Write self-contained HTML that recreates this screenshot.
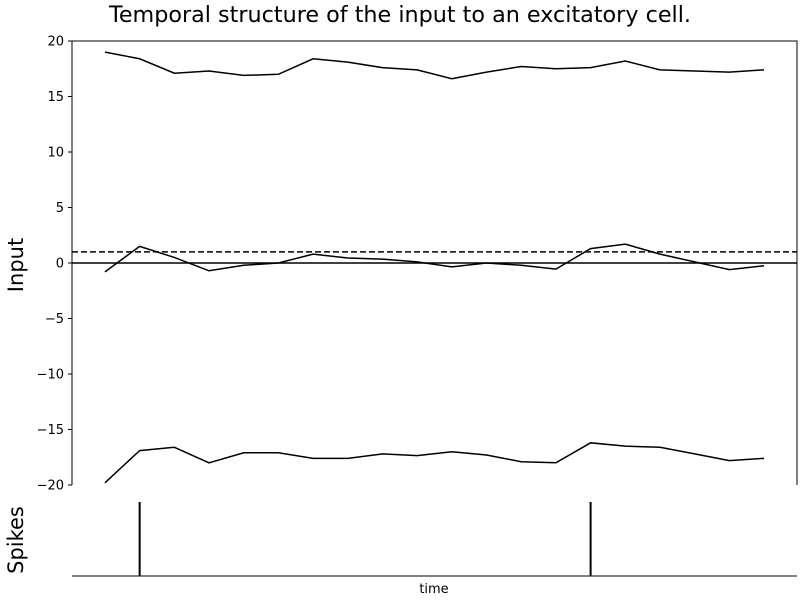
<!DOCTYPE html>
<html><head><meta charset="utf-8"><style>body{margin:0;background:#fff}svg{display:block;font-family:"DejaVu Sans","Liberation Sans",sans-serif}</style></head>
<body>
<svg id="c" width="800" height="600">
<text x="400" y="22" font-size="22" text-anchor="middle" textLength="582" lengthAdjust="spacingAndGlyphs">Temporal structure of the input to an excitatory cell.</text>
<text transform="translate(23,265) rotate(-90)" font-size="21" text-anchor="middle">Input</text>
<text transform="translate(23,540) rotate(-90)" font-size="21" text-anchor="middle">Spikes</text>
<text x="434" y="593" font-size="13" text-anchor="middle">time</text>
<g id="g"></g>
</svg>
<script>
const upper=[19.0,18.4,17.1,17.3,16.9,17.0,18.4,18.1,17.6,17.4,16.6,17.2,17.7,17.5,17.6,18.2,17.4,17.3,17.2,17.4];
const middle=[-0.8,1.5,0.5,-0.7,-0.2,0,0.8,0.45,0.35,0.1,-0.35,0,-0.2,-0.55,1.3,1.7,0.8,0.1,-0.6,-0.25];
const lower=[-19.8,-16.9,-16.6,-18.0,-17.1,-17.1,-17.6,-17.6,-17.2,-17.35,-17.0,-17.3,-17.9,-18.0,-16.2,-16.5,-16.6,-17.2,-17.8,-17.6];
const spikeTimes=[1,14];
const yTicks=[20,15,10,5,0,-5,-10,-15,-20];
const threshold=1;
const L=72,R=797,T=41,B=485;
const xs=i=>L+(i+0.95)*(R-L)/20.9;
const ys=v=>T+(20-v)*(B-T)/40;
const g=document.getElementById('g'),NS='http://www.w3.org/2000/svg';
function mk(t,a){const e=document.createElementNS(NS,t);for(const k in a)e.setAttribute(k,a[k]);g.appendChild(e);return e;}
let e;
e=mk('path',{d:`M${L},${B}V${T}H${R}V${B}`,fill:'none',stroke:'#000','stroke-width':1});


yTicks.forEach(v=>{
 const y=ys(v);
 e=mk('line',{x1:L-4,x2:L,y1:y,y2:y,stroke:'#000'});
 
 
 e=mk('text',{x:L-8,y:y+4.5,'font-size':13,'text-anchor':'end'});
 e.textContent=v<0?'\u2212'+(-v):String(v);
 
 
});
e=mk('line',{x1:L,x2:R,y1:ys(0),y2:ys(0),stroke:'#000','stroke-width':1.5});


e=mk('line',{x1:L,x2:R,y1:ys(threshold),y2:ys(threshold),stroke:'#000','stroke-width':1.5,'stroke-dasharray':'6,3'});


[[upper,'upper-input-line'],[middle,'net-input-line'],[lower,'lower-input-line']].forEach(([d,n])=>{
 e=mk('polyline',{points:d.map((v,i)=>xs(i)+','+ys(v)).join(' '),fill:'none',stroke:'#000','stroke-width':1.5});
 
 
});
e=mk('line',{x1:L,x2:R,y1:576,y2:576,stroke:'#000'});


spikeTimes.forEach(t=>{
 e=mk('line',{x1:xs(t),x2:xs(t),y1:502,y2:576,stroke:'#000','stroke-width':2});
 
 
});
</script>
</body></html>
